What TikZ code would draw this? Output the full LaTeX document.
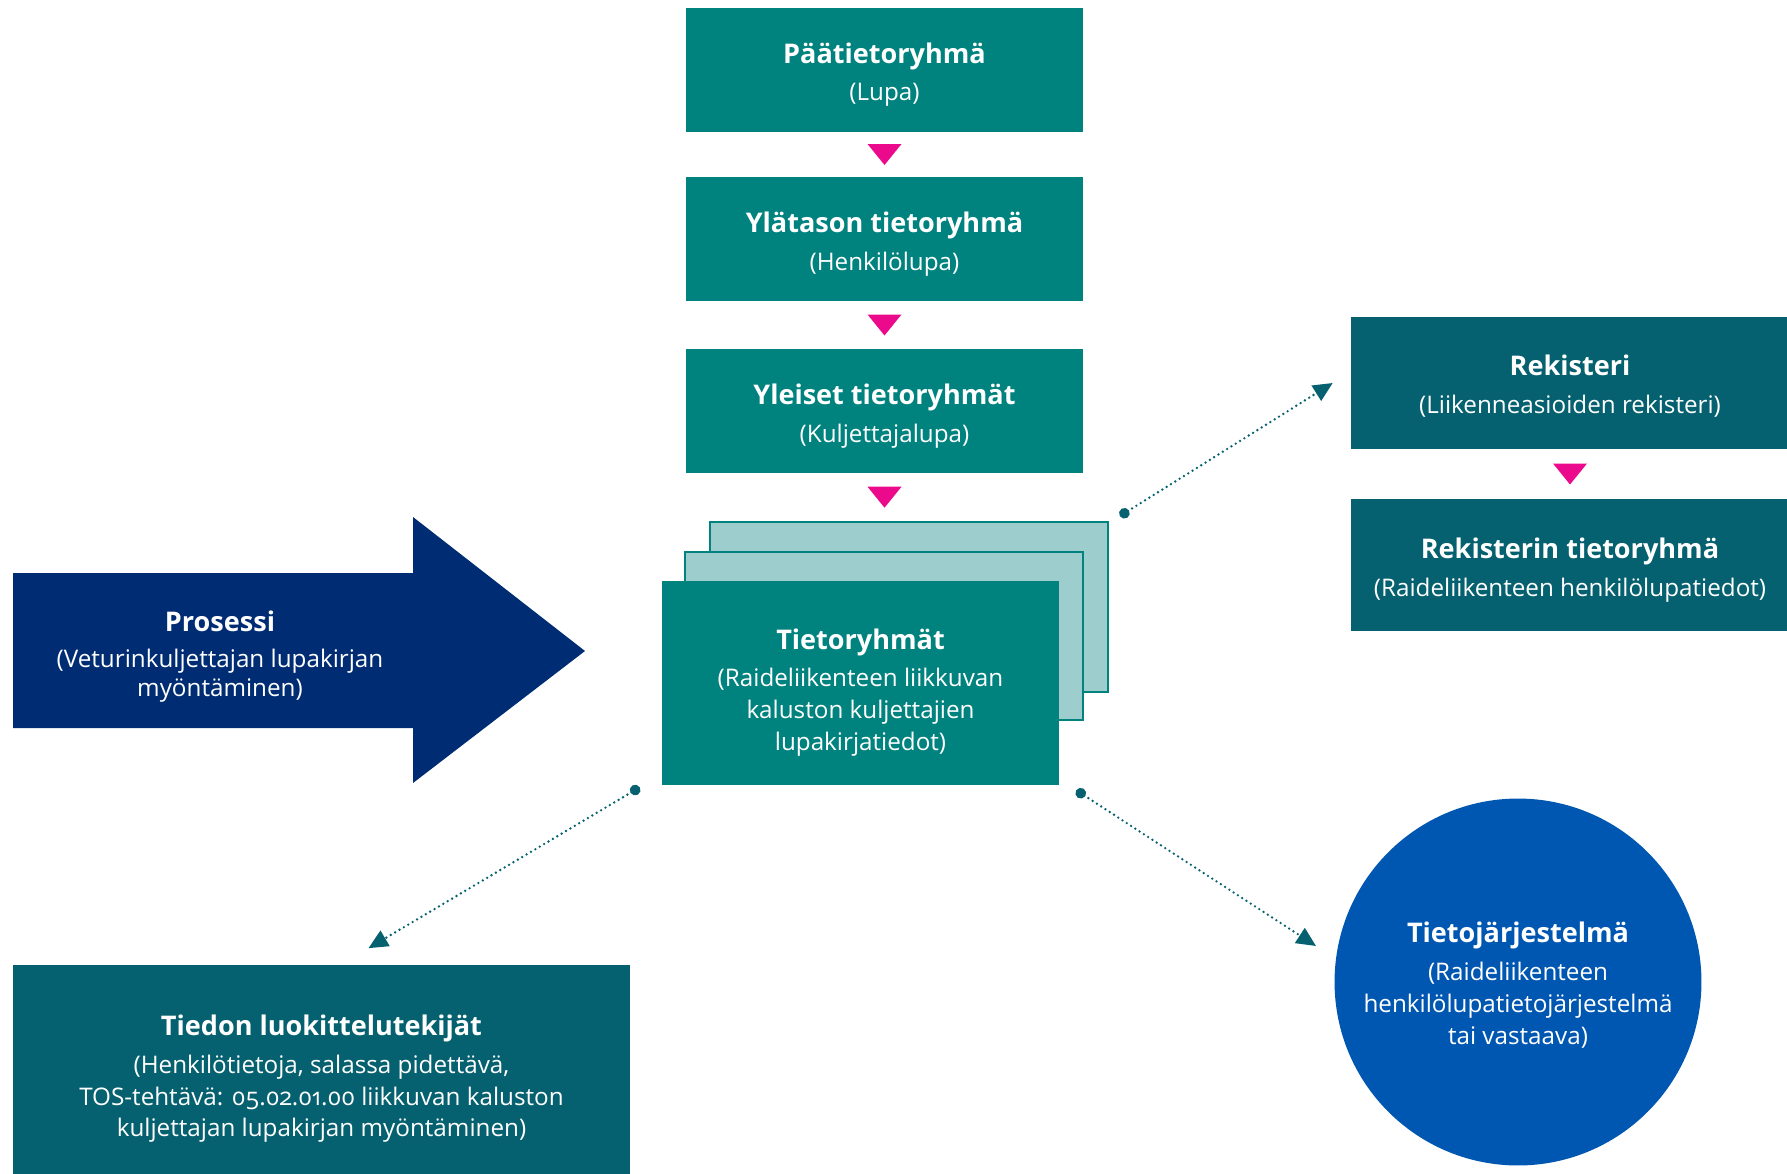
\documentclass[tikz,border=0pt]{standalone}
\usepackage{fontspec}
\setmainfont{Open Sans}
\usetikzlibrary{calc,arrows.meta}

\definecolor{turkoosi}{HTML}{00827F}
\definecolor{vaalea}{HTML}{9DCDCD}
\definecolor{petroli}{HTML}{05616F}
\definecolor{laivasto}{HTML}{002C73}
\definecolor{sininen}{HTML}{0057B1}
\definecolor{pinkki}{HTML}{EB0A8C}

% title line of a box (optional: strut height above the title)
\newcommand\otsikko[2][17pt]{\rule{0pt}{#1}{\bfseries\fontsize{15.4}{18}\selectfont #2}\\[3.4pt]}
% pink triangle between two boxes
\newcommand\kolmio[2]{\fill[pinkki] ($(#1.south)!0.5!(#1.south |- #2.north)+(-17,-10.5)$) -- ++(34,0) -- ++(-17,21) -- cycle;}

\begin{document}
\begin{tikzpicture}[
    x=0.02cm, y=-0.02cm,
    laatikko/.style={rectangle, fill=turkoosi, text=white, inner sep=0pt, minimum width=7.94cm, minimum height=2.48cm, align=center, font=\fontsize{13.8}{18.2}\selectfont},
    pino/.style={rectangle, fill=vaalea, draw=turkoosi, line width=1.1pt, inner sep=0pt, minimum width=7.96cm},
    rekbox/.style={laatikko, fill=petroli, minimum width=8.76cm, minimum height=2.64cm},
    yhteys/.style={petroli, line width=1.5pt, line cap=round, dash pattern=on 0pt off 2.9pt, {Circle[length=6pt]}-{Triangle[length=11pt,width=10pt]}}
]
    \useasboundingbox (0,0) rectangle (1787,1173);

    % Main column
    \node[laatikko] (paa) at (884.5,70) {\otsikko{Päätietoryhmä}(Lupa)};
    \node[laatikko] (yla) at (884.5,239) {\otsikko{Ylätason tietoryhmä}(Henkilölupa)};
    \node[laatikko] (yleiset) at (884.5,411) {\otsikko{Yleiset tietoryhmät}(Kuljettajalupa)};

    % Stack of data groups
    \node[pino, minimum height=3.4cm] (takana) at (909,607) {};
    \node[pino, minimum height=3.36cm] (keski) at (884,636) {};
    \node[laatikko, minimum height=4.08cm] (etu) at (860.5,683) {\otsikko[22.6pt]{Tietoryhmät}(Raideliikenteen liikkuvan\\kaluston kuljettajien\\lupakirjatiedot)};

    \kolmio{paa}{yla}
    \kolmio{yla}{yleiset}
    \kolmio{yleiset}{takana}

    % Register
    \node[rekbox] (rek) at (1570,383) {\otsikko[15.5pt]{Rekisteri}(Liikenneasioiden rekisteri)};
    \node[rekbox] (rekryhma) at (1570,565) {\otsikko{Rekisterin tietoryhmä}(Raideliikenteen henkilölupatiedot)};
    \kolmio{rek}{rekryhma}

    % Process arrow
    \fill[laivasto] (13,573) -- (413,573) -- (413,517) -- (585,651) -- (413,783) -- (413,728) -- (13,728) -- cycle;
    \node[text=white, align=center, font=\fontsize{13.8}{16.9}\selectfont] (prosessi) at (220,652) {\otsikko{Prosessi}(Veturinkuljettajan lupakirjan\\myöntäminen)};

    % Classification and information system
    \node[laatikko, fill=petroli, minimum width=12.34cm, minimum height=4.38cm] (luok) at (321.5,1074) {\otsikko{Tiedon luokittelutekijät}(Henkilötietoja, salassa pidettävä,\\TOS-tehtävä: {\addfontfeatures{Numbers=OldStyle}05.02.01.00} liikkuvan kaluston\\kuljettajan lupakirjan myöntäminen)};
    \node[circle, fill=sininen, text=white, inner sep=0pt, minimum size=7.34cm, align=center, font=\fontsize{13.8}{18.2}\selectfont] (tj) at (1518,982) {\otsikko[15pt]{Tietojärjestelmä}(Raideliikenteen\\henkilölupatietojärjestelmä\\tai vastaava)};

    % Dotted connectors
    \coordinate (a1) at ($(takana.north east)+(11,-5)$);
    \coordinate (b1) at ($(rek.west)+(-18,0)$);
    \coordinate (a2) at ($(etu.south west)+(-22,2)$);
    \coordinate (b2) at ($(luok.north)+(47,-16)$);
    \coordinate (a3) at ($(etu.south east)+(17,5)$);
    \coordinate (b3) at ($(tj.center)+(-202,-36)$);
    \draw[yhteys] (a1) -- (b1);
    \draw[yhteys] (a2) -- (b2);
    \draw[yhteys] (a3) -- (b3);
\end{tikzpicture}
\end{document}
